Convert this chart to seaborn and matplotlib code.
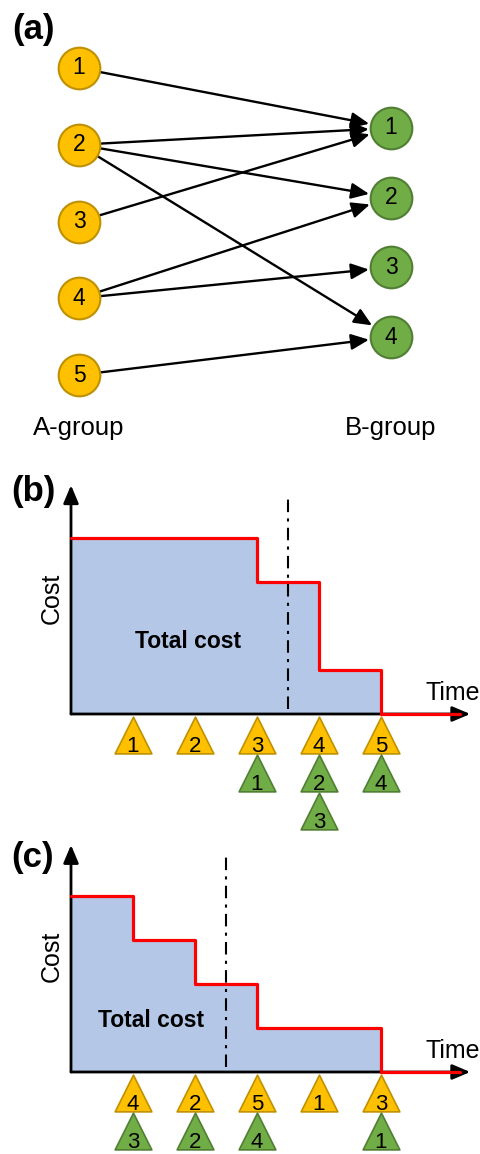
import numpy as np
import pandas as pd
import matplotlib
matplotlib.use("Agg")
import matplotlib.pyplot as plt
import seaborn as sns

# ---------------- data ----------------
# Panel (a): bipartite assignment graph
a_nodes = [1, 2, 3, 4, 5]
b_nodes = [1, 2, 3, 4]
edge_from = [1, 2, 2, 2, 3, 4, 4, 5]
edge_to = [1, 1, 2, 4, 1, 2, 3, 4]
group_labels = ["A-group", "B-group"]

# Panel (b): schedule 1
b_step_time = [0, 3, 4, 5]
b_step_cost = [4, 3, 1, 0]
b_yellow = [1, 2, 3, 4, 5]          # A-node finished at slot 1..5
b_green_slot = [3, 4, 4, 5]
b_green_label = [1, 2, 3, 4]
b_now = 3.5

# Panel (c): schedule 2
c_step_time = [0, 1, 2, 3, 5]
c_step_cost = [4, 3, 2, 1, 0]
c_yellow = [4, 2, 5, 1, 3]
c_green_slot = [1, 2, 3, 5]
c_green_label = [3, 2, 4, 1]
c_now = 2.5

time_end = 6.27

# ---------------- style ----------------
sns.set_theme(style="white")
plt.rcParams["font.family"] = ["Liberation Sans", "DejaVu Sans"]
plt.rcParams["text.color"] = "black"

YELLOW, YEDGE = "#FFC000", "#BF9000"
GREEN, GEDGE = "#70AD47", "#507E32"
FILL = "#B4C7E7"

W, H = 481, 1154
fig = plt.figure(figsize=(W / 100, H / 100), dpi=100)


def add_ax(top, bottom):
    ax = fig.add_axes([0, 1 - bottom / H, 1, (bottom - top) / H])
    ax.axis("off")
    return ax


# ---------------- panel (a) ----------------
axA = add_ax(0, 450)
x_px, y_px0, y_step = 312.0, 68.0, 76.75
axA.set_xlim(-79 / x_px, (W - 79) / x_px)
axA.set_ylim(1 + (450 - y_px0) / y_step, 1 - y_px0 / y_step)

a_y = np.array(a_nodes, dtype=float)
b_y = 3.143 + (np.array(b_nodes, dtype=float) - 2.5) * 0.908

for s, t in zip(edge_from, edge_to):
    axA.annotate("", xy=(1, b_y[t - 1]), xytext=(0, a_y[s - 1]),
                 arrowprops=dict(arrowstyle="-|>,head_length=0.9,head_width=0.4",
                                 color="black", lw=1.7, shrinkA=15, shrinkB=16),
                 zorder=2)

a_df = pd.DataFrame({"x": np.zeros(len(a_nodes)), "y": a_y})
b_df = pd.DataFrame({"x": np.ones(len(b_nodes)), "y": b_y})
sns.scatterplot(data=a_df, x="x", y="y", s=900, color=YELLOW, edgecolor=YEDGE,
                linewidth=1.5, ax=axA, zorder=3, clip_on=False, legend=False)
sns.scatterplot(data=b_df, x="x", y="y", s=900, color=GREEN, edgecolor=GEDGE,
                linewidth=1.5, ax=axA, zorder=3, clip_on=False, legend=False)
for n, y in zip(a_nodes, a_y):
    axA.text(0, y, str(n), ha="center", va="center", fontsize=16.5, zorder=4)
for n, y in zip(b_nodes, b_y):
    axA.text(1, y, str(n), ha="center", va="center", fontsize=16.5, zorder=4)
label_y = 1 + (428 - y_px0) / y_step
axA.text(0, label_y, group_labels[0], ha="center", va="center", fontsize=18.5)
axA.text(1, label_y, group_labels[1], ha="center", va="center", fontsize=18.5)
axA.axis("off")

# ---------------- panels (b), (c) ----------------
T_PX, C_PX, X0 = 62.0, 44.0, 71.0
ROW0, ROWSTEP, TXT_OFF = -0.466, 0.864, -0.40


def cost_panel(top, bottom, base, step_t, step_c, yellow, gslot, glabel, now,
               total_pos, ytop):
    ax = add_ax(top, bottom)
    ax.set_xlim(-X0 / T_PX, (W - X0) / T_PX)
    ax.set_ylim(-(bottom - base) / C_PX, (base - top) / C_PX)

    ax.fill_between(step_t, step_c, step="post", color=FILL, lw=0, zorder=1)
    sns.lineplot(x=list(step_t) + [time_end], y=list(step_c) + [0],
                 drawstyle="steps-post", color="#FF0000", lw=2.3,
                 estimator=None, sort=False, ax=ax, zorder=4)
    # axes arrows
    ax.annotate("", xy=(6.44, 0), xytext=(0, 0),
                arrowprops=dict(arrowstyle="-|>,head_length=0.9,head_width=0.38",
                                color="black", lw=2, shrinkA=0, shrinkB=0),
                zorder=3)
    ax.annotate("", xy=(0, ytop), xytext=(0, 0),
                arrowprops=dict(arrowstyle="-|>,head_length=0.9,head_width=0.38",
                                color="black", lw=2, shrinkA=0, shrinkB=0),
                zorder=3)
    # current time
    ax.plot([now, now], [0.12, 4.88], color="black", lw=1.5,
            dashes=(6, 3, 1.5, 3), zorder=5)

    slots = np.arange(1, len(yellow) + 1)
    ydf = pd.DataFrame({"t": slots, "y": np.full(len(slots), ROW0)})
    sns.scatterplot(data=ydf, x="t", y="y", marker="^", s=700, color=YELLOW,
                    edgecolor=YEDGE, linewidth=1.2, ax=ax, clip_on=False,
                    legend=False, zorder=6)
    for t, lab in zip(slots, yellow):
        ax.text(t, ROW0 + TXT_OFF, str(lab), ha="center", va="baseline",
                fontsize=16, zorder=7)
    rows, count = [], {}
    for t in gslot:
        count[t] = count.get(t, 0) + 1
        rows.append(ROW0 - ROWSTEP * count[t])
    gdf = pd.DataFrame({"t": gslot, "y": rows})
    sns.scatterplot(data=gdf, x="t", y="y", marker="^", s=700, color=GREEN,
                    edgecolor=GEDGE, linewidth=1.2, ax=ax, clip_on=False,
                    legend=False, zorder=6)
    for t, y, lab in zip(gslot, rows, glabel):
        ax.text(t, y + TXT_OFF, str(lab), ha="center", va="baseline",
                fontsize=16, zorder=7)

    ax.text(total_pos[0], total_pos[1], "Total cost", ha="center", va="center",
            fontsize=16.5, fontweight="bold", zorder=6)
    ax.text(-0.306, 2.63, "Cost", rotation=90, ha="center", va="center",
            fontsize=18)
    ax.text(6.16, 0.47, "Time", ha="center", va="center", fontsize=18)
    ax.axis("off")
    return ax


cost_panel(450, 830, 714, b_step_time, b_step_cost, b_yellow, b_green_slot,
           b_green_label, b_now, (1.89, 1.64), 5.2)
cost_panel(830, 1154, 1072, c_step_time, c_step_cost, c_yellow, c_green_slot,
           c_green_label, c_now, (1.29, 1.18), 5.16)

# panel letters
for lab, ypx in [("(a)", 30), ("(b)", 492), ("(c)", 857)]:
    fig.text(33 / W, 1 - ypx / H, lab, ha="center", va="center",
             fontsize=25, fontweight="bold")

fig.savefig("out.png", dpi=100)
